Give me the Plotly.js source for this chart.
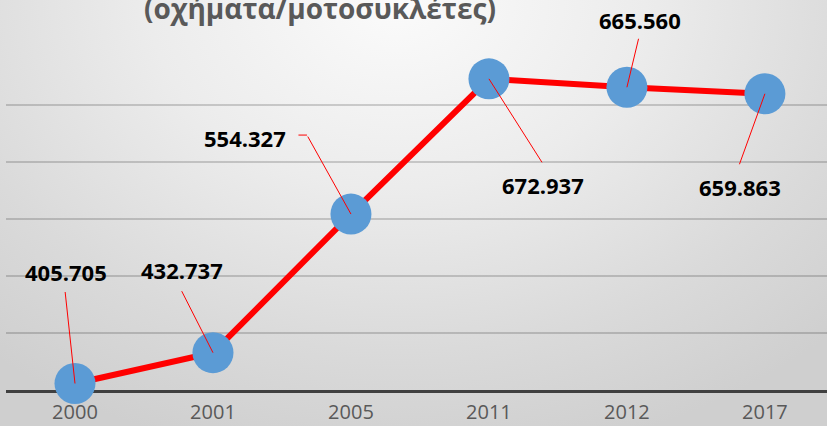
<!DOCTYPE html>
<html>
<head>
<meta charset="utf-8">
<script src="https://cdn.plot.ly/plotly-3.0.1.min.js"></script>
<style>
  html, body { margin: 0; padding: 0; }
  body {
    width: 827px; height: 426px; overflow: hidden;
    background: radial-gradient(ellipse 75% 110% at 48% 0%, #fbfbfb 0%, #ececec 40%, #dadada 75%, #cfcfcf 100%);
  }
  #chart { width: 827px; height: 426px; }
</style>
</head>
<body>
<div id="chart"></div>
<script>
// ---- data ----
const years = ['2000', '2001', '2005', '2011', '2012', '2017'];
const vehicles = [405705, 432737, 554327, 672937, 665560, 659863];
const titleText = '(οχήματα/μοτοσυκλέτες)';

// ---- label placement (pixel offsets from each point) ----
const labelOffsets = [[-9, 112], [-31, 83], [-106, 76], [54, -106], [13, 67], [-25, -93]];
const leaderTails = [[-10, -93], [-32, -63], [-44, -79], [54, 85], [12, -50], [-26, 72]];

function fmt(n) {
  const s = String(Math.round(n));
  return s.replace(/\B(?=(\d{3})+(?!\d))/g, '.');
}

const annotations = [];
years.forEach((yr, i) => {
  annotations.push({
    x: i, y: vehicles[i], xref: 'x', yref: 'y',
    text: fmt(vehicles[i]), showarrow: false,
    xshift: labelOffsets[i][0], yshift: labelOffsets[i][1],
    font: { family: 'Open Sans', size: 22, color: '#000000', weight: 700 }
  });
  annotations.push({
    x: i, y: vehicles[i], xref: 'x', yref: 'y',
    text: '', showarrow: true, arrowhead: 0, arrowwidth: 1,
    arrowcolor: '#FF0000', standoff: 0,
    ax: leaderTails[i][0], ay: leaderTails[i][1]
  });
});
// small horizontal elbow for the 2005 leader
annotations.push({
  x: 2, y: vehicles[2], xref: 'x', yref: 'y',
  text: '', showarrow: true, arrowhead: 0, arrowwidth: 1,
  arrowcolor: '#FF0000', standoff: 0,
  xshift: -44, yshift: 79, ax: -10, ay: 0
});
annotations.push({
  xref: 'paper', yref: 'paper', x: 0.3825, y: 1, yanchor: 'bottom', yshift: 19,
  text: titleText, showarrow: false,
  font: { family: 'Open Sans', size: 28, color: '#595959', weight: 700 }
});

const trace = {
  x: years, y: vehicles, type: 'scatter', mode: 'lines+markers',
  line: { color: '#FF0000', width: 6 },
  marker: { color: '#5B9BD5', size: 41 },
  cliponaxis: false, hoverinfo: 'skip'
};

const layout = {
  width: 827, height: 426,
  margin: { l: 6, r: 0, t: 48, b: 36 },
  paper_bgcolor: 'rgba(0,0,0,0)', plot_bgcolor: 'rgba(0,0,0,0)',
  showlegend: false,
  xaxis: {
    type: 'category', range: [-0.5, 5.45],
    showgrid: false, zeroline: false,
    showline: true, linecolor: '#404040', linewidth: 3,
    ticks: '', layer: 'below traces', ticklabelstandoff: 2,
    tickfont: { family: 'Open Sans', size: 20, color: '#595959' }
  },
  yaxis: {
    range: [400000, 700000], dtick: 50000,
    showticklabels: false, ticks: '',
    showgrid: true, gridcolor: 'rgba(0,0,0,0.17)', gridwidth: 2,
    zeroline: false, showline: false, layer: 'below traces'
  },
  annotations: annotations
};

Plotly.newPlot('chart', [trace], layout, { displayModeBar: false, staticPlot: true });
</script>
</body>
</html>
